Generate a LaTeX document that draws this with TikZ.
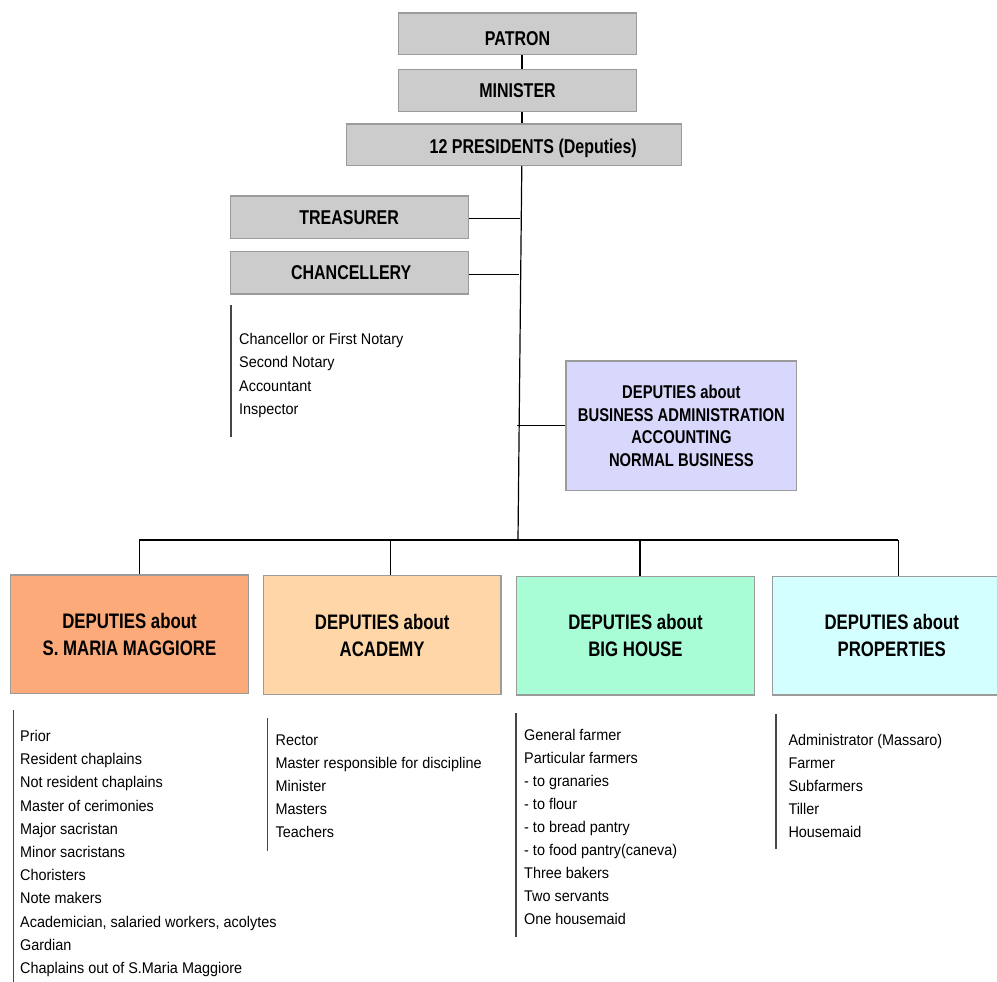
\documentclass[tikz,border=0pt]{standalone}
\usepackage{fontspec}
\setmainfont{Liberation Sans}
\newfontfamily\boldcond{Liberation Sans}[FakeStretch=0.8]
\newfontfamily\listcond{Liberation Sans}[FakeStretch=0.93]
\definecolor{gfill}{RGB}{204,204,204}
\definecolor{gline}{RGB}{155,155,155}
\definecolor{lavfill}{RGB}{216,216,252}
\definecolor{orafill}{RGB}{252,170,122}
\definecolor{peafill}{RGB}{254,214,168}
\definecolor{grnfill}{RGB}{168,252,214}
\definecolor{cyafill}{RGB}{212,255,255}
\definecolor{barline}{RGB}{70,70,70}
\tikzset{
  box/.style={draw=gline, line width=1.3pt, inner sep=0pt, align=center},
  topbox/.style={box, fill=gfill, minimum width=238pt, minimum height=41.5pt,
    font=\boldcond\bfseries\fontsize{20}{24}\selectfont},
  deputybox/.style={box, minimum width=237.6pt, minimum height=118.5pt,
    font=\boldcond\bfseries\fontsize{21}{27}\selectfont},
  conn/.style={draw=black, line width=1.2pt},
  bar/.style={draw=barline, line width=1.2pt},
  item/.style={anchor=base west, inner sep=0pt, font=\listcond\fontsize{15.5}{18}\selectfont}
}
\begin{document}
\begin{tikzpicture}[x=1pt,y=-1pt]
\useasboundingbox (0,0) rectangle (997,982);
\clip (0,0) rectangle (997,982);
% top chain
\node[topbox] (patron) at (517.5,33.8) {\raisebox{-5pt}[\height][\depth]{PATRON}};
\node[topbox] (minister) at (517.5,90.5) {MINISTER};
\node[topbox, minimum width=335pt] (pres) at (514.2,144.8) {\hspace*{38pt}\raisebox{-3.5pt}[\height][\depth]{12 PRESIDENTS (Deputies)}};
\node[topbox, minimum height=42.3pt] (treasurer) at (349.2,217.2) {TREASURER};
\node[topbox, minimum height=42.3pt] (chancellery) at (349.2,272.8) {\hspace*{4pt}CHANCELLERY};
\node[box, fill=lavfill, minimum width=230.7pt, minimum height=129.7pt,
  font=\boldcond\bfseries\fontsize{18.5}{22.4}\selectfont] (business) at (681.4,425.8)
  {DEPUTIES about\\BUSINESS ADMINISTRATION\\ACCOUNTING\\NORMAL BUSINESS};
% bottom boxes
\node[deputybox, fill=orafill] (sm) at (129.5,634.2) {DEPUTIES about\\S. MARIA MAGGIORE};
\node[deputybox, fill=peafill] (ac) at (382.2,635) {DEPUTIES about\\ACADEMY};
\node[deputybox, fill=grnfill] (bh) at (635.5,635.8) {DEPUTIES about\\BIG HOUSE};
\node[deputybox, fill=cyafill, minimum width=238pt] (pr) at (891.7,635.8) {DEPUTIES about\\PROPERTIES};
% connectors
\coordinate (bus) at (518,540);
\coordinate (b1) at (139.3,540);
\coordinate (b2) at (390.7,540);
\coordinate (b3) at (640,540);
\coordinate (b4) at (898.3,540);
\draw[conn] ([xshift=4.5pt]patron.south) -- ([xshift=4.5pt]minister.north);
\draw[conn] ([xshift=4.5pt]minister.south) -- ([xshift=7.8pt]pres.north);
\draw[conn] ([xshift=7.6pt]pres.south) -- (bus);
\draw[conn] ([yshift=-1pt]treasurer.east) -- ++(51.5,0);
\draw[conn] ([yshift=-1.5pt]chancellery.east) -- ++(50,0);
\draw[conn] (business.west) -- ++(-48.8,0);
\draw[conn] (b1) -- (b4);
\draw[conn] (b1) -- (b1 |- sm.north);
\draw[conn] (b2) -- (b2 |- ac.north);
\draw[conn] (b3) -- (b3 |- bh.north);
\draw[conn] (b4) -- (b4 |- pr.north);
% chancellery list
\draw[bar] (231,305) -- (231,437);
\foreach \t [count=\i from 0] in {Chancellor or First Notary, Second Notary, Accountant, Inspector}
  \node[item] (ch-\i) at (239,344+23.6*\i) {\t};
% S. Maria Maggiore list
\draw[bar] (13.3,710) -- (13.3,982);
\foreach \t [count=\i from 0] in {Prior, Resident chaplains, Not resident chaplains, Master of cerimonies, Major sacristan, Minor sacristans, Choristers, Note makers, {Academician, salaried workers, acolytes}, Gardian, Chaplains out of S.Maria Maggiore}
  \node[item] (sm-\i) at (20,741.5+23.2*\i) {\t};
% Academy list
\draw[bar] (267.3,718) -- (267.3,851);
\foreach \t [count=\i from 0] in {Rector, Master responsible for discipline, Minister, Masters, Teachers}
  \node[item] (ac-\i) at (275.5,745.5+23*\i) {\t};
% Big house list
\draw[bar] (516,713) -- (516,937);
\foreach \t [count=\i from 0] in {General farmer, Particular farmers, - to granaries, - to flour, - to bread pantry, - to food pantry(caneva), Three bakers, Two servants, One housemaid}
  \node[item] (bh-\i) at (524,740.5+23*\i) {\t};
% Properties list
\draw[bar] (776,714) -- (776,849);
\foreach \t [count=\i from 0] in {Administrator (Massaro), Farmer, Subfarmers, Tiller, Housemaid}
  \node[item] (pr-\i) at (788.3,745+23.1*\i) {\t};
\end{tikzpicture}
\end{document}
